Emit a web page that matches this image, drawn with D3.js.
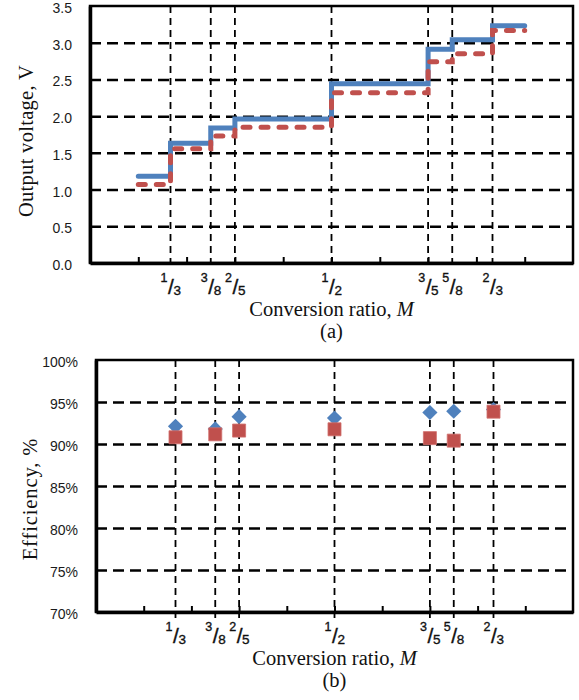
<!DOCTYPE html>
<html>
<head>
<meta charset="utf-8">
<script src="https://cdn.jsdelivr.net/npm/d3@7"></script>
<style>
  body { margin: 0; background: #fff; }
</style>
</head>
<body>
<svg id="vis"></svg>
<script>
const WIDTH = 579;
const HEIGHT = 700;

// Conversion ratios M (dashed vertical lines and their labels)
const ratioValues = [1/3, 3/8, 2/5, 1/2, 3/5, 5/8, 2/3];
const ratioNum = ["1", "3", "2", "1", "3", "5", "2"];
const ratioDen = ["3", "8", "5", "2", "5", "8", "3"];
const minorTicks = [0.3, 0.35, 0.4, 0.45, 0.5, 0.55, 0.6, 0.65, 0.7];

// (a) output voltage, steps between these edges
const stepEdges = [0.3, 1/3, 3/8, 2/5, 1/2, 3/5, 5/8, 2/3, 0.7];
const voltageBlue = [1.18, 1.63, 1.84, 1.96, 2.44, 2.91, 3.04, 3.23];
const voltageRed = [1.07, 1.555, 1.73, 1.85, 2.32, 2.74, 2.85, 3.165];
const voltageTicks = [0, 0.5, 1, 1.5, 2, 2.5, 3, 3.5];

// (b) efficiency at each ratio
const effBlue = [92.1, 91.8, 93.25, 93.1, 93.75, 93.9, 94.1];
const effRed = [90.8, 91.15, 91.6, 91.75, 90.7, 90.4, 93.85];
const effTicks = [70, 75, 80, 85, 90, 95, 100];

const BLUE = "#4f81bd";
const RED = "#c0504d";

const svg = d3.select("#vis")
    .attr("width", WIDTH)
    .attr("height", HEIGHT);

function panel(cfg) {
    const x = d3.scaleLinear().domain([0.25, 0.75]).range([cfg.left, cfg.right]);
    const y = d3.scaleLinear().domain(cfg.yDomain).range([cfg.bottom, cfg.top]);
    const g = svg.append("g");

    // horizontal dashed grid
    g.append("g")
        .attr("transform", `translate(${cfg.left},0)`)
        .call(d3.axisLeft(y).tickValues(cfg.yTicks.slice(1, -1)).tickSize(-(cfg.right - cfg.left)).tickFormat(""))
        .call(a => a.select(".domain").remove())
        .selectAll("line")
        .attr("stroke", "#000")
        .attr("stroke-width", 2.5)
        .attr("stroke-dasharray", "11,6");

    // vertical dashed lines at the ratios
    g.selectAll(".vline")
        .data(ratioValues)
        .join("line")
        .attr("x1", d => x(d))
        .attr("x2", d => x(d))
        .attr("y1", cfg.top)
        .attr("y2", cfg.bottom + 6)
        .attr("stroke", "#000")
        .attr("stroke-width", 1.8)
        .attr("stroke-dasharray", "7,5");

    // frame
    g.append("rect")
        .attr("x", cfg.left)
        .attr("y", cfg.top)
        .attr("width", cfg.right - cfg.left)
        .attr("height", cfg.bottom - cfg.top)
        .attr("fill", "none")
        .attr("stroke", "#000")
        .attr("stroke-width", 2.5);

    // y axis labels
    const yAxis = g.append("g")
        .attr("transform", `translate(${cfg.left},0)`)
        .call(d3.axisLeft(y).tickValues(cfg.yTicks).tickSize(0).tickPadding(18).tickFormat(cfg.fmt).tickSizeOuter(0));
    yAxis.attr("font-family", "Liberation Sans, Arial, sans-serif").attr("font-size", 14);
    yAxis.select(".domain").attr("stroke-width", 3.5);
    yAxis.selectAll("text").attr("fill", "#1a1a1a").attr("dy", "0.46em");

    // x axis with minor ticks
    const xAxis = g.append("g")
        .attr("transform", `translate(0,${cfg.bottom})`)
        .call(d3.axisBottom(x).tickValues(minorTicks).tickSize(-6).tickFormat("").tickSizeOuter(0));
    xAxis.select(".domain").attr("stroke-width", 3.5);
    xAxis.selectAll("line").attr("stroke-width", 2);

    // fraction labels
    const lab = g.selectAll(".frac")
        .data(ratioValues)
        .join("g")
        .attr("font-family", "Liberation Sans, Arial, sans-serif")
        .attr("fill", "#111")
        .attr("stroke", "#111")
        .attr("stroke-width", 0.35);
    lab.append("text")
        .attr("x", d => x(d) - 3)
        .attr("y", cfg.bottom + 19)
        .attr("text-anchor", "end")
        .attr("font-size", 12.5)
        .text((d, i) => ratioNum[i]);
    lab.append("text")
        .attr("x", d => x(d) + 0.5)
        .attr("y", cfg.bottom + 31)
        .attr("text-anchor", "middle")
        .attr("font-size", 21)
        .text("/");
    lab.append("text")
        .attr("x", d => x(d) + 3)
        .attr("y", cfg.bottom + 32)
        .attr("text-anchor", "start")
        .attr("font-size", 13.5)
        .text((d, i) => ratioDen[i]);

    // titles
    const cx = (cfg.left + cfg.right) / 2;
    const xt = g.append("text")
        .attr("x", cx)
        .attr("y", cfg.bottom + 52.5)
        .attr("text-anchor", "middle")
        .attr("font-family", "Liberation Serif, serif")
        .attr("font-size", 20.5)
        .attr("fill", "#111");
    xt.append("tspan").text("Conversion ratio, ");
    xt.append("tspan").attr("font-style", "italic").text("M");

    g.append("text")
        .attr("x", cx)
        .attr("y", cfg.bottom + 74.5)
        .attr("text-anchor", "middle")
        .attr("font-family", "Liberation Serif, serif")
        .attr("font-size", 20.5)
        .attr("fill", "#111")
        .text(cfg.caption);

    g.append("text")
        .attr("transform", `translate(${cfg.titleX},${cfg.titleY}) rotate(-90)`)
        .attr("text-anchor", "middle")
        .attr("font-family", "Liberation Serif, serif")
        .attr("font-size", 20.5)
        .attr("letter-spacing", cfg.titleSpacing)
        .attr("fill", "#111")
        .text(cfg.yTitle);

    return { g, x, y };
}

// (a)
const a = panel({
    left: 90, right: 573, top: 6, bottom: 263,
    yDomain: [0, 3.5], yTicks: voltageTicks, fmt: d3.format(".1f"),
    yTitle: "Output voltage, V", titleX: 33, titleY: 141, titleSpacing: 0.3, caption: "(a)"
});

const stepLine = d3.line()
    .x(d => a.x(d[0]))
    .y(d => a.y(d[1]))
    .curve(d3.curveStepAfter);

function stepPoints(vals) {
    const pts = vals.map((v, i) => [stepEdges[i], v]);
    pts.push([stepEdges[stepEdges.length - 1], vals[vals.length - 1]]);
    return pts;
}

a.g.append("path")
    .attr("d", stepLine(stepPoints(voltageBlue)))
    .attr("fill", "none")
    .attr("stroke", BLUE)
    .attr("stroke-width", 5)
    .attr("stroke-linecap", "round");

a.g.append("path")
    .attr("d", stepLine(stepPoints(voltageRed)))
    .attr("fill", "none")
    .attr("stroke", RED)
    .attr("stroke-width", 5)
    .attr("stroke-linecap", "round")
    .attr("stroke-dasharray", "7,11");

// (b)
const b = panel({
    left: 96, right: 573, top: 360, bottom: 612,
    yDomain: [70, 100], yTicks: effTicks, fmt: d => d + "%",
    yTitle: "Efficiency, %", titleX: 37, titleY: 499, titleSpacing: 0.9, caption: "(b)"
});

b.g.selectAll(".diamond")
    .data(effBlue)
    .join("path")
    .attr("d", d3.symbol().type(d3.symbolSquare).size(115))
    .attr("transform", (d, i) => `translate(${b.x(ratioValues[i])},${b.y(d)}) rotate(45)`)
    .attr("fill", BLUE);

b.g.selectAll(".square")
    .data(effRed)
    .join("path")
    .attr("d", d3.symbol().type(d3.symbolSquare).size(170))
    .attr("transform", (d, i) => `translate(${b.x(ratioValues[i])},${b.y(d)})`)
    .attr("fill", RED)
    .attr("stroke", "#d0706d")
    .attr("stroke-width", 0.8);
</script>
</body>
</html>
